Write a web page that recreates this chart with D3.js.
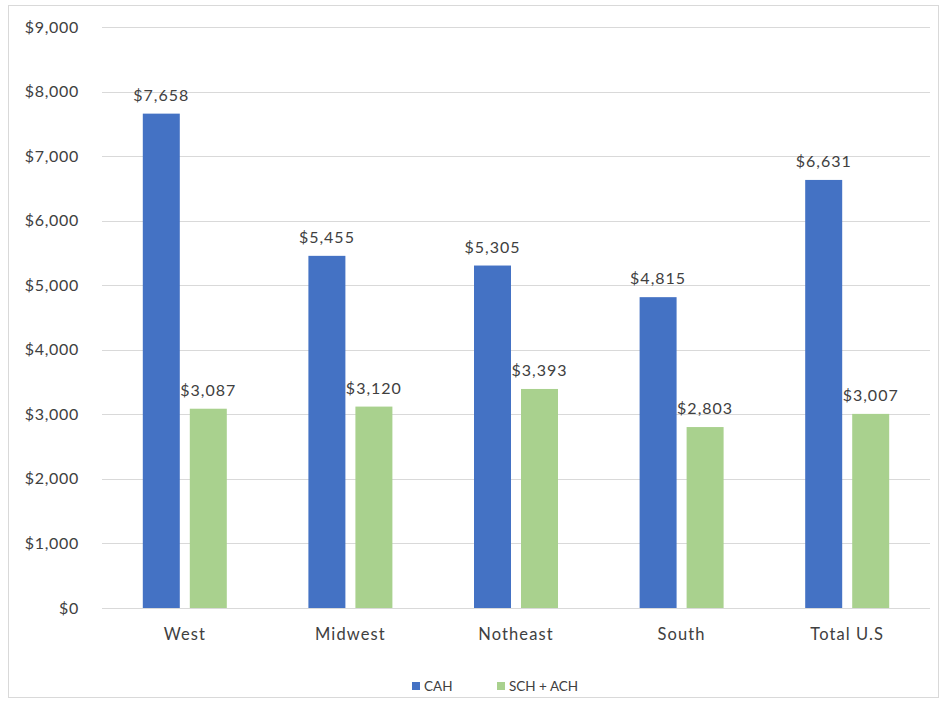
<!DOCTYPE html>
<html>
<head>
<meta charset="utf-8">
<script src="https://cdn.jsdelivr.net/npm/d3@7"></script>
<style>
  body { margin: 0; background: #fff; }
  svg text { font-family: Lato, "Open Sans", sans-serif; fill: #404040; }
</style>
</head>
<body>
<svg id="chart" width="941" height="704"></svg>
<script>
const regions = ['West', 'Midwest', 'Notheast', 'South', 'Total U.S'];
const seriesNames = ['CAH', 'SCH + ACH'];
const cahValues = [7658, 5455, 5305, 4815, 6631];
const schAchValues = [3087, 3120, 3393, 2803, 3007];
const yTicks = [0, 1000, 2000, 3000, 4000, 5000, 6000, 7000, 8000, 9000];

const colors = ['#4472C4', '#A9D18E'];
const width = 941;
const height = 704;
const margin = { top: 27, right: 11, bottom: 96, left: 102 };
const groupWidth = 84;

const svg = d3.select('#chart');

// chart frame
svg.append('rect').
attr('x', 8.5).
attr('y', 5.5).
attr('width', 930).
attr('height', 692).
attr('fill', '#fff').
attr('stroke', '#d9d9d9');

const x0 = d3.scaleBand().
domain(regions).
range([margin.left, width - margin.right]);

const x1 = d3.scaleBand().
domain(seriesNames).
range([0, groupWidth]).
paddingInner(0.213);

const y = d3.scaleLinear().
domain([0, 9000]).
range([height - margin.bottom, margin.top]);

const fmt = d3.format('$,');

// gridlines
svg.append('g').
selectAll('line').
data(yTicks).
enter().
append('line').
attr('x1', margin.left).
attr('x2', width - margin.right).
attr('y1', d => Math.round(y(d)) + 0.5).
attr('y2', d => Math.round(y(d)) + 0.5).
attr('stroke', '#d9d9d9').
attr('stroke-width', 1);

// y tick labels
svg.append('g').
selectAll('text').
data(yTicks).
enter().
append('text').
attr('x', 79).
attr('y', d => y(d)).
attr('dy', '0.35em').
attr('text-anchor', 'end').
style('font-size', '16px').
style('letter-spacing', '0.7px').
text(d => fmt(d));

const rows = regions.map(function (r, i) {
  return { region: r, values: [cahValues[i], schAchValues[i]] };
});

const groups = svg.selectAll('g.group').
data(rows).
enter().
append('g').
attr('class', 'group').
attr('transform', d => 'translate(' + (x0(d.region) + (x0.bandwidth() - groupWidth) / 2) + ',0)');

const bars = groups.selectAll('g.bar').
data(d => d.values.map((v, i) => ({ name: seriesNames[i], value: v }))).
enter().
append('g').
attr('class', 'bar');

bars.append('rect').
attr('x', d => x1(d.name)).
attr('y', d => y(d.value)).
attr('width', x1.bandwidth()).
attr('height', d => y(0) - y(d.value)).
attr('fill', (d, i) => colors[i]);

bars.append('text').
attr('x', d => x1(d.name) + x1.bandwidth() / 2).
attr('y', d => y(d.value) - 13).
attr('text-anchor', 'middle').
style('font-size', '16px').
style('letter-spacing', '1px').
text(d => fmt(d.value));

// category labels
svg.append('g').
selectAll('text').
data(regions).
enter().
append('text').
attr('x', d => x0(d) + x0.bandwidth() / 2).
attr('y', height - margin.bottom + 32).
attr('text-anchor', 'middle').
style('font-size', '16.5px').
style('letter-spacing', '1.1px').
text(d => d);

// legend
const legendX = [412, 497];
const legend = svg.append('g').
selectAll('g').
data(seriesNames).
enter().
append('g').
attr('transform', (d, i) => 'translate(' + legendX[i] + ',682)');

legend.append('rect').
attr('width', 8).
attr('height', 8).
attr('fill', (d, i) => colors[i]);

legend.append('text').
attr('x', 12).
attr('y', 4).
attr('dy', '0.35em').
style('font-size', '13.5px').
text(d => d);
</script>
</body>
</html>
